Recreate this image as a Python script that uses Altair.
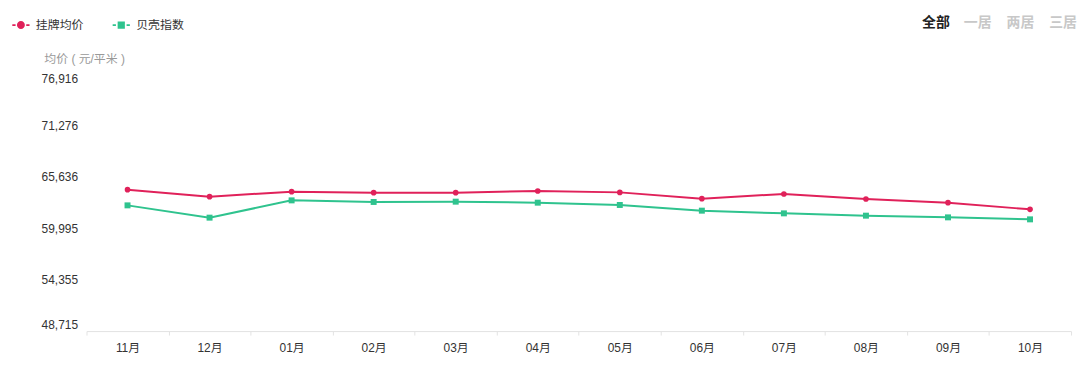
import altair as alt
import pandas as pd

months = ["11月", "12月", "01月", "02月", "03月", "04月", "05月", "06月", "07月", "08月", "09月", "10月"]
series_names = ["挂牌均价", "贝壳指数"]
listing_avg = [64212, 63445, 63993, 63884, 63884, 64070, 63916, 63226, 63741, 63193, 62788, 62055]
beike_index = [62493, 61146, 63040, 62865, 62898, 62788, 62536, 61912, 61616, 61364, 61178, 60959]
y_ticks = [48715, 54355, 59995, 65636, 71276, 76916]
colors = ["#E0215A", "#2FC38E"]
tabs = ["全部", "一居", "两居", "三居"]

rows = []
for m, a, b in zip(months, listing_avg, beike_index):
    rows.append({"month": m, "series": series_names[0], "value": a})
    rows.append({"month": m, "series": series_names[1], "value": b})
df = pd.DataFrame(rows)

FONT = "Liberation Sans, Noto Sans CJK SC, sans-serif"

circle_path = ("M-1,-0.11 H-0.62 V0.11 H-1 Z M0.62,-0.11 H1 V0.11 H0.62 Z "
               "M-0.46,0 A0.46,0.46 0 1,1 0.46,0 A0.46,0.46 0 1,1 -0.46,0 Z")
square_path = ("M-1,-0.11 H-0.62 V0.11 H-1 Z M0.62,-0.11 H1 V0.11 H0.62 Z "
               "M-0.42,-0.42 H0.42 V0.42 H-0.42 Z")

color_scale = alt.Scale(domain=series_names, range=colors)
legend = alt.Legend(
    title=None, orient="none", legendX=-75, legendY=-58, direction="horizontal",
    symbolSize=300, symbolOpacity=1, symbolStrokeWidth=0, labelFontSize=12,
    labelColor="#333333", labelFont=FONT, labelOffset=6, columnPadding=28,
)

x_enc = alt.X("month:N", sort=months, scale=alt.Scale(paddingInner=0, paddingOuter=0),
              axis=alt.Axis(title=None, labelAngle=0, labelFontSize=12, labelColor="#333333",
                            labelFont=FONT, labelPadding=8, domainColor="#e3e3e3",
                            tickColor="#e3e3e3", tickSize=4, tickBand="extent", grid=False))
y_enc = alt.Y("value:Q", scale=alt.Scale(domain=[y_ticks[0], y_ticks[-1]], nice=False, zero=False),
              axis=alt.Axis(values=y_ticks, format=",d", title="均价 ( 元/平米 )", titleAngle=0,
                            titleAlign="left", titleBaseline="middle", titleX=-43, titleY=-15,
                            titleFontSize=12, titleFontWeight="normal", titleColor="#999999",
                            titleFont=FONT, labelFontSize=12, labelColor="#333333", labelFont=FONT,
                            labelFlush=True, labelPadding=9, domain=False, ticks=False, grid=False))

base = alt.Chart(df).encode(x=x_enc, y=y_enc,
                            color=alt.Color("series:N", scale=color_scale, legend=legend))

lines = base.mark_line(strokeWidth=2)
legend_layer = base.mark_point(filled=True, opacity=0).encode(
    shape=alt.Shape("series:N", scale=alt.Scale(domain=series_names, range=[circle_path, square_path]),
                    legend=legend))
circles = base.transform_filter(alt.datum.series == series_names[0]).mark_circle(size=32, opacity=1)
squares = base.transform_filter(alt.datum.series == series_names[1]).mark_square(size=36, opacity=1)

tab_colors = ["#222222", "#c8c8c8", "#c8c8c8", "#c8c8c8"]
tab_x = [855, 897, 940, 983]
tab_layers = []
for t, c, tx in zip(tabs, tab_colors, tab_x):
    tab_layers.append(
        alt.Chart(pd.DataFrame({"t": [t]})).mark_text(
            fontSize=14, fontWeight="bold", font=FONT, color=c, baseline="middle", align="center"
        ).encode(text="t:N", x=alt.value(tx), y=alt.value(-51))
    )

chart = alt.layer(lines, legend_layer, circles, squares, *tab_layers).properties(
    width=991, height=259,
    padding={"left": 79, "top": 65, "right": 10, "bottom": 40},
    autosize="none",
    background="white",
).configure_view(stroke=None, strokeWidth=0)

chart.save("out.html", embed_options={"renderer": "svg", "actions": False})
